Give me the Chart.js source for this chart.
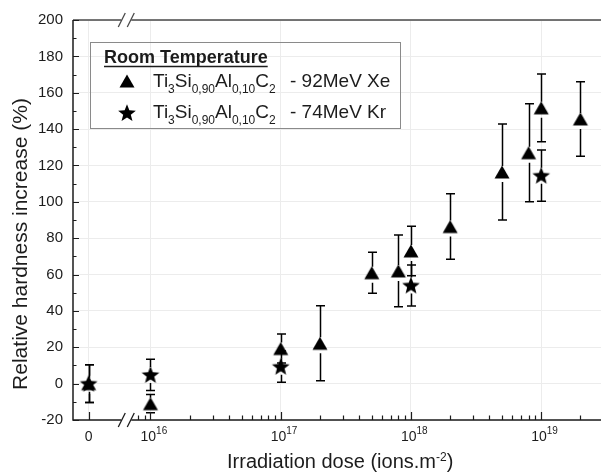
<!DOCTYPE html>
<html>
<head>
<meta charset="utf-8">
<script src="https://cdn.jsdelivr.net/npm/chart.js@4.4.0/dist/chart.umd.min.js"></script>
<style>
  html, body { margin: 0; padding: 0; background: #fff; }
  #wrap { width: 611px; height: 472px; }
</style>
</head>
<body>
<div id="wrap"><canvas id="chart" width="611" height="472"></canvas></div>
<script>
// ---- data (dose in ions.m-2, 0 = unirradiated reference) ----
const xeDose     = [0, 1e16, 1e17, 2e17, 5e17, 8e17, 1e18, 2e18, 5e18, 8e18, 1e19, 2e19];
const xeHardness = [0, -11, 19.3, 22.2, 61, 62, 73, 86.4, 116.4, 127, 151.7, 145.6];
const xeError    = [10.4, 5, 8, 20.6, 11.3, 19.7, 13.6, 18, 26.4, 27, 18.6, 20.5];

const krDose     = [0, 1e16, 1e17, 1e18, 1e19];
const krHardness = [0, 4.8, 9.3, 54, 114.4];
const krError    = [10.4, 8.6, 8.6, 11.3, 14.1];

const xTickDose  = [0, 1e16, 1e17, 1e18, 1e19];
const yTicks     = [-20, 0, 20, 40, 60, 80, 100, 120, 140, 160, 180, 200];

// broken log axis: 0 sits on its own stub left of the break
const X_MIN = 15.405, X_MAX = 19.459, ZERO_POS = 15.525, BREAK_POS = 15.814;
const axisPos = d => d === 0 ? ZERO_POS : Math.log10(d);

const FONT = '"Liberation Sans", Arial, Helvetica, sans-serif';
const INK = '#1c1c1c';

/* ------------------ marker images ------------------ */
function triangleImg() {
    const c = document.createElement('canvas');
    c.width = 18; c.height = 16;
    const g = c.getContext('2d');
    g.fillStyle = '#000';
    g.beginPath();
    g.moveTo(9, 1.5); g.lineTo(16.5, 14.5); g.lineTo(1.5, 14.5);
    g.closePath(); g.fill();
    return c;
}
function starImg() {
    const c = document.createElement('canvas');
    c.width = 20; c.height = 20;
    const g = c.getContext('2d');
    g.fillStyle = '#000';
    g.beginPath();
    for (let i = 0; i < 10; i++) {
        const r = i % 2 ? 4.0 : 9.3;
        const a = -Math.PI / 2 + i * Math.PI / 5;
        g.lineTo(10 + r * Math.cos(a), 10.6 + r * Math.sin(a));
    }
    g.closePath(); g.fill();
    return c;
}
const TRI = triangleImg();
const STAR = starImg();

/* ------------------ error bars ------------------ */
const errorBars = {
    id: 'errorBars',
    beforeDatasetsDraw(chart) {
        const { ctx, scales: { x, y } } = chart;
        ctx.save();
        ctx.strokeStyle = '#000';
        ctx.lineWidth = 1.5;
        chart.data.datasets.forEach(ds => {
            ds.data.forEach((p, i) => {
                const e = ds.errors[i];
                const px = Math.round(x.getPixelForValue(p.x)) + 0.5;
                const yc = y.getPixelForValue(p.y);
                const yt = y.getPixelForValue(p.y + e);
                const yb = Math.min(y.getPixelForValue(p.y - e), y.bottom);
                ctx.beginPath();
                if (yc - ds.gapTop > yt) {
                    ctx.moveTo(px, yt); ctx.lineTo(px, yc - ds.gapTop);
                }
                if (yc + ds.gapBot < yb) {
                    ctx.moveTo(px, yc + ds.gapBot); ctx.lineTo(px, yb);
                }
                ctx.moveTo(px - 4.5, yt); ctx.lineTo(px + 4.5, yt);
                if (yb < y.bottom) { ctx.moveTo(px - 4.5, yb); ctx.lineTo(px + 4.5, yb); }
                ctx.stroke();
            });
        });
        ctx.restore();
    }
};

/* ------------------ axes, breaks, labels, legend ------------------ */
function drawParts(ctx, x, y, parts, big, small, bold) {
    parts.forEach(([t, mode]) => {
        const size = mode ? small : big;
        ctx.font = (bold ? 'bold ' : '') + size + 'px ' + FONT;
        const dy = mode === 1 ? 6 : mode === 2 ? -7 : 0;
        ctx.fillText(t, x, y + dy);
        x += ctx.measureText(t).width;
    });
    return x;
}

const frame = {
    id: 'frame',
    afterDraw(chart) {
        const { ctx, chartArea: a, scales: { x, y } } = chart;
        const bx = x.getPixelForValue(BREAK_POS);
        ctx.save();

        // axis lines with break gap
        ctx.lineWidth = 1.5;
        ctx.strokeStyle = INK;
        ctx.beginPath();
        ctx.moveTo(a.left, a.top); ctx.lineTo(a.left, a.bottom + 0.75);
        ctx.moveTo(a.left, a.bottom); ctx.lineTo(bx - 5, a.bottom);
        ctx.moveTo(bx + 5, a.bottom); ctx.lineTo(a.right, a.bottom);
        ctx.stroke();
        ctx.strokeStyle = '#4a4a4a';
        ctx.beginPath();
        ctx.moveTo(a.left, a.top); ctx.lineTo(bx - 5, a.top);
        ctx.moveTo(bx + 5, a.top); ctx.lineTo(a.right, a.top);
        ctx.stroke();

        // break slashes
        ctx.lineWidth = 1.3;
        [[a.bottom, INK], [a.top, '#4a4a4a']].forEach(([yy, col]) => {
            ctx.fillStyle = '#fff';
            ctx.fillRect(bx - 4, yy - 2, 8, 4);
            ctx.strokeStyle = col;
            ctx.beginPath();
            ctx.moveTo(bx - 8, yy + 7); ctx.lineTo(bx - 1, yy - 7);
            ctx.moveTo(bx + 1, yy + 7); ctx.lineTo(bx + 8, yy - 7);
            ctx.stroke();
        });

        // x ticks (inward)
        ctx.strokeStyle = INK;
        ctx.lineWidth = 1.2;
        ctx.beginPath();
        xTickDose.forEach(d => {
            const px = Math.round(x.getPixelForValue(axisPos(d))) + 0.5;
            ctx.moveTo(px, a.bottom); ctx.lineTo(px, a.bottom - 8);
        });
        for (let n = 15; n <= 19; n++) {
            for (let k = 2; k <= 9; k++) {
                const v = n + Math.log10(k);
                const px = x.getPixelForValue(v);
                if (px < bx + 10 || v > X_MAX) continue;
                ctx.moveTo(Math.round(px) + 0.5, a.bottom);
                ctx.lineTo(Math.round(px) + 0.5, a.bottom - 4.5);
            }
        }
        // y ticks (inward)
        for (let v = -20; v <= 200; v += 10) {
            const py = Math.round(y.getPixelForValue(v)) + 0.5;
            ctx.moveTo(a.left, py); ctx.lineTo(a.left + (v % 20 === 0 ? 6 : 3.5), py);
        }
        ctx.stroke();

        // x tick labels
        ctx.fillStyle = INK;
        ctx.textBaseline = 'alphabetic';
        xTickDose.forEach(d => {
            const px = x.getPixelForValue(axisPos(d));
            if (d === 0) {
                ctx.font = '14px ' + FONT;
                ctx.textAlign = 'center';
                ctx.fillText('0', px, 441);
            } else {
                ctx.textAlign = 'left';
                drawParts(ctx, px - 10, 441, [['10', 0], [String(Math.round(Math.log10(d))), 2]], 14, 10);
            }
        });

        // axis titles
        ctx.textAlign = 'left';
        drawParts(ctx, 227, 468, [['Irradiation dose (ions.m', 0], ['-2', 2], [')', 0]], 20, 12);
        ctx.save();
        ctx.translate(26.5, 244);
        ctx.rotate(-Math.PI / 2);
        ctx.textAlign = 'center';
        ctx.font = '21px ' + FONT;
        ctx.fillText('Relative hardness increase (%)', 0, 0);
        ctx.restore();

        // legend
        ctx.strokeStyle = '#8a8a8a';
        ctx.lineWidth = 1;
        ctx.strokeRect(90.5, 42.5, 310, 86);
        ctx.textAlign = 'left';
        const tEnd = drawParts(ctx, 104, 63, [['Room Temperature', 0]], 18, 12, true);
        ctx.strokeStyle = INK;
        ctx.lineWidth = 1.5;
        ctx.beginPath(); ctx.moveTo(104, 66.5); ctx.lineTo(tEnd, 66.5); ctx.stroke();
        const formula = [['Ti', 0], ['3', 1], ['Si', 0], ['0,90', 1], ['Al', 0], ['0,10', 1], ['C', 0], ['2', 1]];
        ctx.drawImage(TRI, 127 - 9, 81 - 8);
        drawParts(ctx, 153, 87, formula, 19, 12);
        drawParts(ctx, 290, 87, [['- 92MeV Xe', 0]], 19, 12);
        ctx.drawImage(STAR, 127 - 10, 113 - 10);
        drawParts(ctx, 153, 118, formula, 19, 12);
        drawParts(ctx, 290, 118, [['- 74MeV Kr', 0]], 19, 12);

        ctx.restore();
    }
};

/* ------------------ chart ------------------ */
new Chart(document.getElementById('chart').getContext('2d'), {
    type: 'scatter',
    data: {
        datasets: [
            {
                label: 'Ti3Si0,90Al0,10C2 - 74MeV Kr',
                data: krDose.map((d, i) => ({ x: axisPos(d), y: krHardness[i] })),
                errors: krError, gapTop: 8, gapBot: 8,
                pointStyle: STAR, pointRadius: 9, pointHoverRadius: 9
            },
            {
                label: 'Ti3Si0,90Al0,10C2 - 92MeV Xe',
                data: xeDose.map((d, i) => ({ x: axisPos(d), y: xeHardness[i] })),
                errors: xeError, gapTop: 6, gapBot: 10,
                pointStyle: TRI, pointRadius: 9, pointHoverRadius: 9
            }
        ]
    },
    options: {
        responsive: false,
        animation: false,
        events: [],
        layout: { padding: { top: 20, right: 0, left: 0, bottom: 0 } },
        plugins: { legend: { display: false }, tooltip: { enabled: false } },
        scales: {
            x: {
                type: 'linear', min: X_MIN, max: X_MAX,
                afterBuildTicks: s => { s.ticks = xTickDose.map(d => ({ value: axisPos(d) })); },
                afterFit: s => { s.height = 52; },
                ticks: { display: false },
                grid: { color: '#ececec', drawTicks: false },
                border: { display: false }
            },
            y: {
                min: -20, max: 200,
                afterBuildTicks: s => { s.ticks = yTicks.map(v => ({ value: v })); },
                afterFit: s => { s.width = 73; },
                ticks: { font: { size: 15, family: FONT }, color: INK, padding: 10 },
                grid: { color: '#ececec', drawTicks: false },
                border: { display: false }
            }
        }
    },
    plugins: [errorBars, frame]
});
</script>
</body>
</html>
